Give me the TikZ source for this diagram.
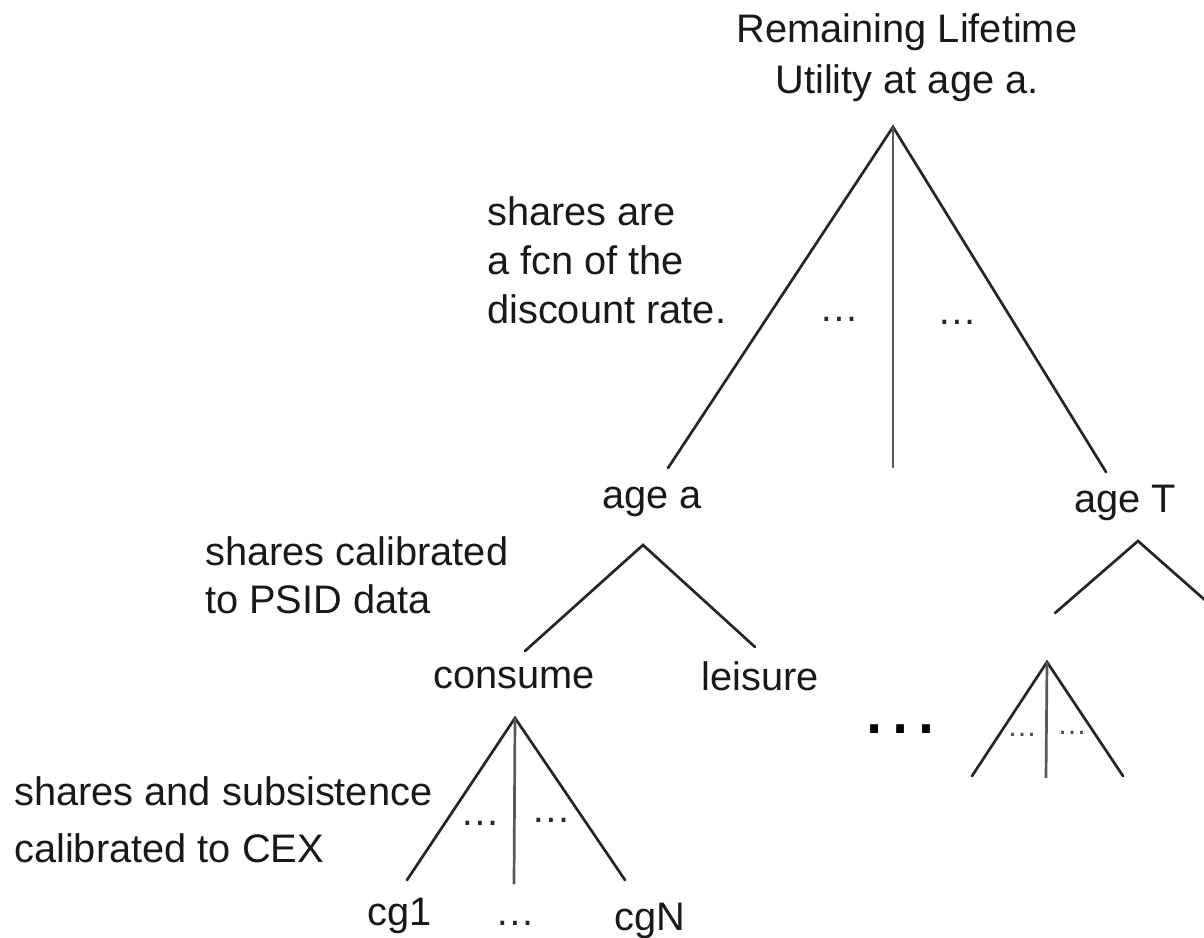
\documentclass[tikz,border=0pt]{standalone}
\usepackage{fontspec}
\setmainfont{Liberation Sans}
\begin{document}
\begin{tikzpicture}[x=1pt,y=-1pt,
  lbl/.style={font=\fontsize{39.8}{50}\selectfont, inner sep=0pt, text=black!90},
  blk/.style={lbl, align=left, anchor=base west},
  dots/.style={font=\fontsize{39.8}{50}\selectfont, inner sep=0pt, anchor=base, text=black!85},
  edge/.style={draw=black!85, line width=2.7pt, line cap=round},
  vedge/.style={draw=black!65, line width=2.7pt}]
\useasboundingbox (0,0) rectangle (1204,937);
% coordinates of tree branches
\coordinate (R) at (893,127);
\coordinate (R1) at (668,468);
\coordinate (R2) at (893,468);
\coordinate (R3) at (1106,472);
\coordinate (A) at (643,545);
\coordinate (A1) at (525,651);
\coordinate (A2) at (755,647);
\coordinate (C) at (515,718);
\coordinate (C1) at (407,880);
\coordinate (C2) at (514,884);
\coordinate (C3) at (625,880);
\coordinate (T) at (1138,541);
\coordinate (T1) at (1055,613);
\coordinate (T2) at (1206,601);
\coordinate (S) at (1047,662);
\coordinate (S1) at (972,776);
\coordinate (S2) at (1046,778);
\coordinate (S3) at (1123,776);
% texts (anchor=base is the baseline of the last line)
\node[lbl, font=\fontsize{39.8}{51}\selectfont, align=center, anchor=base] (title) at (907,93) {Remaining Lifetime\\Utility at age a.};
\node[blk, font=\fontsize{39.8}{49}\selectfont] (disc) at (487,323) {shares are\\a fcn of the\\discount rate.};
\node[lbl, anchor=base] (agea) at (652,508) {age a};
\node[lbl, anchor=base] (ageT) at (1125,512) {age T};
\node[blk, font=\fontsize{39.8}{48}\selectfont] (psid) at (205,613) {shares calibrated\\to PSID data};
\node[lbl, anchor=base] (consume) at (514,688) {consume};
\node[lbl, anchor=base] (leisure) at (760,690) {leisure};
\node[blk, font=\fontsize{39.8}{57}\selectfont] (cex) at (14,862) {shares and subsistence\\calibrated to CEX};
\node[lbl, anchor=base] (cg1) at (400,925) {cg1};
\node[lbl, anchor=base] (cgN) at (650,930) {cgN};
% dots
\node[dots] (d1) at (839,321) {…};
\node[dots] (d2) at (957,324) {…};
\node[dots] (d3) at (480,825) {…};
\node[dots] (d4) at (551,822) {…};
\node[dots] (d5) at (515,925) {…};
\node[dots, font=\fontsize{82}{90}\selectfont, text=black] (d6) at (900,733) {…};
\node[dots, font=\fontsize{30}{32}\selectfont, text=black!70] (d7) at (1022,736) {…};
\node[dots, font=\fontsize{30}{32}\selectfont, text=black!70] (d8) at (1072,734) {…};
% branches
\draw[edge] (R1) -- (R) -- (R3);
\draw[vedge] (R) -- (R2);
\draw[edge] (A1) -- (A) -- (A2);
\draw[edge] (C1) -- (C) -- (C3);
\draw[vedge] (C) -- (C2);
\draw[edge] (T1) -- (T) -- (T2);
\draw[edge] (S1) -- (S) -- (S3);
\draw[vedge] (S) -- (S2);
\end{tikzpicture}
\end{document}
